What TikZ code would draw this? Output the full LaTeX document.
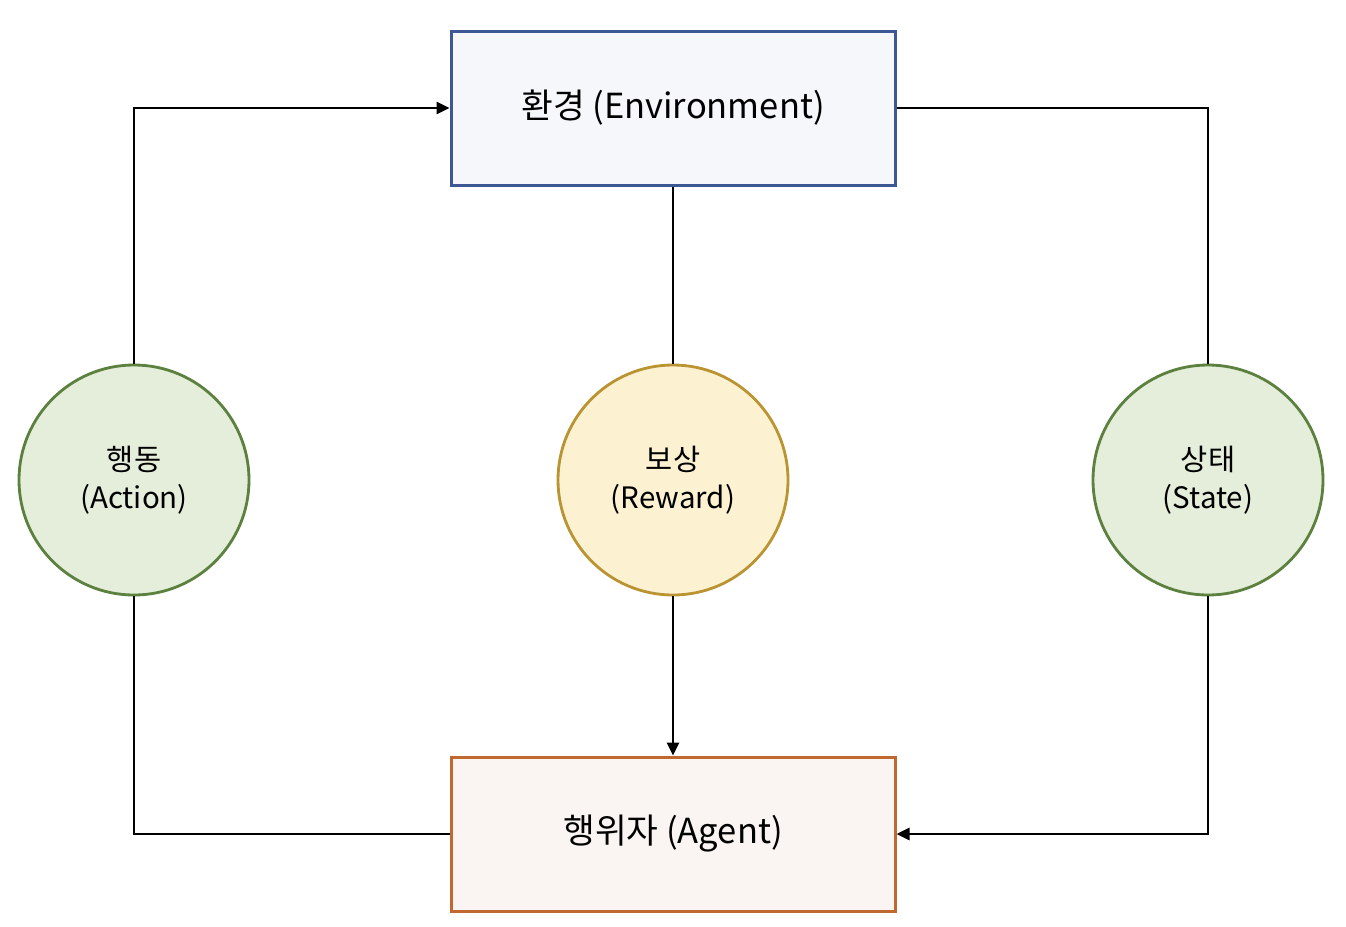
\documentclass[tikz,border=0pt]{standalone}
\usepackage{fontspec}
\setmainfont{Noto Sans CJK KR}
\usetikzlibrary{arrows.meta}
\definecolor{envline}{RGB}{62,88,150}
\definecolor{envfill}{RGB}{245,247,251}
\definecolor{agentline}{RGB}{192,104,48}
\definecolor{agentfill}{RGB}{250,245,242}
\definecolor{greenline}{RGB}{92,128,62}
\definecolor{greenfill}{RGB}{228,238,218}
\definecolor{goldline}{RGB}{186,148,50}
\definecolor{goldfill}{RGB}{252,241,209}
\tikzset{
  box/.style={draw, line width=3pt, minimum width=444pt, minimum height=154pt, inner sep=0pt, font=\fontsize{34.5}{40}\selectfont},
  ball/.style={draw, circle, line width=2.8pt, minimum size=230pt, inner sep=0pt, align=center, font=\fontsize{29.5}{38}\selectfont},
  link/.style={line width=2.8pt},
  arr/.style={link, -{Triangle[length=13pt,width=12pt]}}
}
\begin{document}
\begin{tikzpicture}[x=1pt,y=-1pt]
	\useasboundingbox (0,0) rectangle (1346,926);
	
	\node[box, draw=envline, fill=envfill] (env) at (673,108) {환경 (Environment)};
	\node[box, draw=agentline, fill=agentfill] (agent) at (673,834) {행위자 (Agent)};
	
	\node[ball, draw=greenline, fill=greenfill] (action) at (134,480) {행동\\(Action)};
	\node[ball, draw=goldline, fill=goldfill] (reward) at (673,480) {보상\\(Reward)};
	\node[ball, draw=greenline, fill=greenfill] (state) at (1208,480) {상태\\(State)};
	
	\draw[arr] (action.north) |- (env.west);
	\draw[link] (agent.west) -| (action.south);
	\draw[link] (env.east) -| (state.north);
	\draw[arr] (state.south) |- (agent.east);
	\draw[link] (env.south) -- (reward.north);
	\draw[arr] (reward.south) -- (agent.north);
	
\end{tikzpicture}
\end{document}
